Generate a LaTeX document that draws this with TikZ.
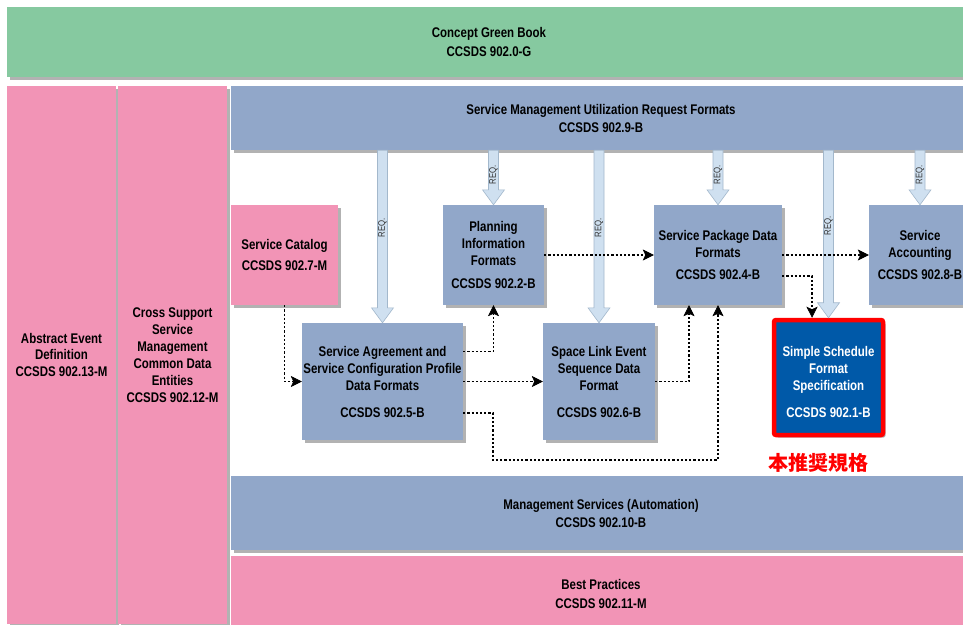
\documentclass[tikz,border=0pt]{standalone}
\usepackage{fontspec}
\setmainfont[FakeStretch=0.82]{Liberation Sans}
\newfontfamily\cjk{Noto Sans CJK JP}
\usetikzlibrary{arrows.meta,shadows,calc}
\definecolor{cgreen}{HTML}{86C9A0}
\definecolor{cpink}{HTML}{F294B6}
\definecolor{cblue}{HTML}{91A7C9}
\definecolor{cdark}{HTML}{0059A8}
\definecolor{reqfill}{HTML}{CFE0F0}
\definecolor{reqline}{HTML}{A3B8CC}
\newcommand\reqarrow[2]{%
  \path[reqa] let \p1=(#1), \p2=(#2) in
    (\x1-5pt,\y1) -- (\x1+5pt,\y1) -- (\x1+5pt,\y2+15pt) -- (\x1+11pt,\y2+15pt)
    -- (\x1,\y2) -- (\x1-11pt,\y2+15pt) -- (\x1-5pt,\y2+15pt) -- cycle;
  \node[reql] at ($(#1)!0.45!(#2)$) {REQ.};}
\begin{document}
\begin{tikzpicture}[x=1pt,y=-1pt,
  every node/.style={font=\bfseries\fontsize{14}{17}\selectfont, align=center, inner sep=0pt},
  blk/.style={fill=#1, drop shadow={shadow xshift=2.5pt,shadow yshift=-2.5pt,fill=black!30,opacity=1}},
  reqa/.style={fill=reqfill, draw=reqline, line width=0.6pt},
  reql/.style={font=\fontsize{9.5}{10}\selectfont, rotate=90, text=black!80},
  dep/.style={draw=black, line width=1.2pt, dash pattern=on 2.2pt off 2pt,
    -{Stealth[length=11pt,width=11pt,inset=2.5pt,line width=0.5pt]}}]
\clip (0,0) rectangle (963,624);
\fill[white] (0,0) rectangle (963,624);
% bands and columns
\node[blk=cgreen, minimum width=964, minimum height=70] (cgb) at (489,42)
  {Concept Green Book\\[2pt]CCSDS 902.0-G};
\node[blk=cpink, minimum width=109, minimum height=538] (aed) at (61.5,355)
  {Abstract Event\\[-0.5pt]Definition\\[-0.5pt]CCSDS 902.13-M};
\node[blk=cpink, minimum width=109, minimum height=538] (csc) at (172.5,355)
  {Cross Support\\Service\\Management\\Common Data\\Entities\\CCSDS 902.12-M};
\node[blk=cblue, minimum width=740, minimum height=64] (smur) at (601,118)
  {Service Management Utilization Request Formats\\[1pt]CCSDS 902.9-B};
\node[blk=cblue, minimum width=740, minimum height=74] (ms) at (601,513)
  {Management Services (Automation)\\[1pt]CCSDS 902.10-B};
\node[blk=cpink, minimum width=740, minimum height=75] (bp) at (601,593.5)
  {Best Practices\\[2pt]CCSDS 902.11-M};
% boxes
\node[blk=cpink, minimum width=107, minimum height=100] (sc) at (284.5,255)
  {Service Catalog\\[4pt]CCSDS 902.7-M};
\node[blk=cblue, minimum width=101, minimum height=100] (pif) at (493.5,255)
  {Planning\\Information\\Formats\\[6pt]CCSDS 902.2-B};
\node[blk=cblue, minimum width=128, minimum height=100] (spd) at (718,255)
  {Service Package Data\\Formats\\[5pt]CCSDS 902.4-B};
\node[blk=cblue, minimum width=102, minimum height=100] (acc) at (920,255)
  {Service\\Accounting\\[5pt]CCSDS 902.8-B};
\node[blk=cblue, minimum width=161, minimum height=117] (sa) at (382.5,381.5)
  {Service Agreement and\\Service Configuration Profile\\Data Formats\\[10pt]CCSDS 902.5-B};
\node[blk=cblue, minimum width=112, minimum height=117] (sl) at (599,381.5)
  {Space Link Event\\Sequence Data\\Format\\[10pt]CCSDS 902.6-B};
\node[blk=cdark, draw=red, line width=4.5pt, rounded corners=2pt,
  minimum width=109, minimum height=115] (ss) at (828.5,377.5) {};
\node[text=white] (sst) at ([yshift=-4.5pt]ss.center)
  {Simple Schedule\\Format\\Specification\\[10pt]CCSDS 902.1-B};
\node[text=red, font=\cjk\bfseries\fontsize{20}{21}\selectfont] (jp) at (818,463) {本推奨規格};
% REQ arrows
\reqarrow{smur.south -| sa.north}{sa.north}
\reqarrow{smur.south -| pif.north}{pif.north}
\reqarrow{smur.south -| sl.north}{sl.north}
\reqarrow{smur.south -| spd.north}{spd.north}
\reqarrow{smur.south -| ss.north}{ss.north}
\reqarrow{smur.south -| acc.north}{acc.north}
% dependency connectors
\coordinate (low) at (493,460);
\draw[dep] (sc.south) |- (sa.west);
\draw[dep] ([yshift=30pt]sa.east) -| (pif.south);
\draw[dep] (sa.east) -- (sl.west);
\draw[dep] ([yshift=-31.5pt]sa.east) -| (low) -| (spd.south);
\draw[dep] (sl.east) -| ([xshift=-29pt]spd.south);
\draw[dep] (pif.east) -- (spd.west);
\draw[dep] (spd.east) -- (acc.west);
\draw[dep] ([yshift=-21pt]spd.east) -| ([xshift=-16.5pt]ss.north);
\end{tikzpicture}
\end{document}
